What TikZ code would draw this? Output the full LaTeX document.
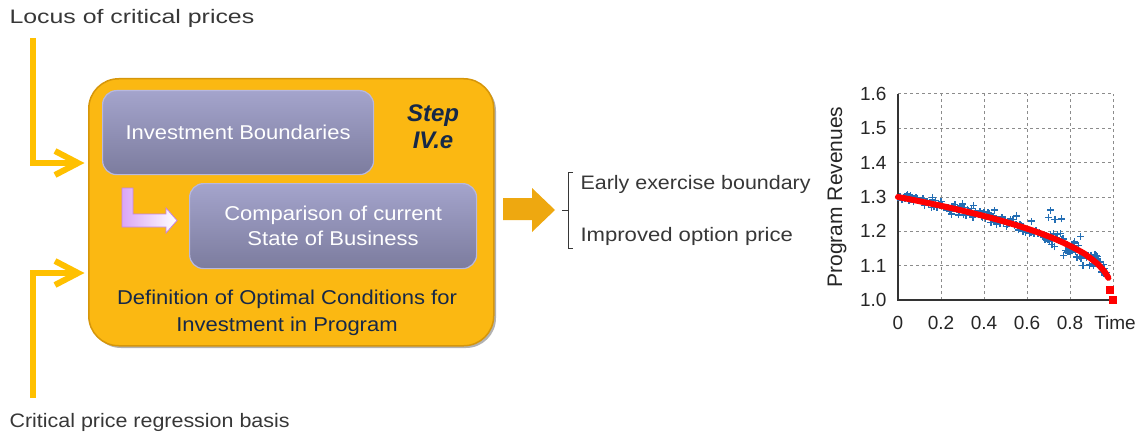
\documentclass[tikz,border=0pt]{standalone}
\usepackage{fontspec}
\setmainfont[FakeStretch=1.1]{Liberation Sans}
\newfontfamily\plainsans{Liberation Sans}
\usetikzlibrary{calc}
\definecolor{ylw}{RGB}{255,192,0}
\definecolor{orng}{RGB}{251,184,18}
\definecolor{orngd}{RGB}{214,150,10}
\definecolor{barrow}{RGB}{238,168,16}
\definecolor{lavt}{RGB}{164,164,204}
\definecolor{lavb}{RGB}{124,124,158}
\definecolor{lavedge}{RGB}{184,184,222}
\definecolor{navy}{RGB}{22,40,72}
\definecolor{txtg}{RGB}{55,55,55}
\definecolor{pinkL}{RGB}{218,166,246}
\definecolor{pinkE}{RGB}{196,130,228}
\definecolor{ptblue}{RGB}{35,110,180}
\definecolor{gridg}{RGB}{140,140,140}
\tikzset{
  feed/.style={draw=ylw,line width=6pt,line join=miter},
  inbox/.style={rounded corners=14pt,top color=lavt,bottom color=lavb,draw=lavedge,line width=1.2pt},
  intext/.style={text=white,font=\fontsize{20}{25}\selectfont,align=center},
  lbl/.style={text=txtg,font=\fontsize{19.5}{24}\selectfont},
  ticklbl/.style={text=black!85,font=\plainsans\fontsize{19}{22}\selectfont},
}
\newcommand{\bplus}[2]{%
  \draw[ptblue,line width=1.4pt] ([xshift=-3.5pt]#1,#2) -- ([xshift=3.5pt]#1,#2);
  \draw[ptblue,line width=1.4pt] ([yshift=-3.5pt]#1,#2) -- ([yshift=3.5pt]#1,#2);}
\begin{document}
\begin{tikzpicture}[x=1pt,y=-1pt]
\useasboundingbox (0,0) rectangle (1141,436);
% labels
\node[lbl,anchor=west] (locus) at (6,18) {\scalebox{1.16}[1]{Locus of critical prices}};
\node[lbl,anchor=west] (basis) at (6,422) {Critical price regression basis};
% main box
\fill[gray!60,rounded corners=30pt] (91,81) rectangle (496,348);
\node[draw=orngd,line width=1.5pt,fill=orng,rounded corners=30pt,minimum width=405pt,minimum height=267pt,anchor=north west] (main) at (88,78) {};
\node[inbox,minimum width=271pt,minimum height=84pt,anchor=north west] (ib) at (102,90) {};
\node[intext] at (ib.center) {Investment Boundaries};
\node[inbox,minimum width=287pt,minimum height=85pt,anchor=north west] (cmp) at (189,183) {};
\node[intext] at (cmp.center) {Comparison of current\\State of Business};
\node[text=navy,font=\plainsans\fontsize{24}{27}\selectfont\bfseries\itshape,align=center] (step) at (433,127) {Step\\IV.e};
\node[text=navy,font=\fontsize{20}{27}\selectfont,align=center] (def) at (287,313) {Definition of Optimal Conditions for\\Investment in Program};
% pink L arrow
\path[left color=pinkL,right color=white,draw=pinkE,line width=0.8pt]
 (122,188) -- (133,188) -- (133,214) -- (166,214) -- (166,208) -- (177,220.5) -- (166,233) -- (166,227) -- (122,227) -- cycle;
% feed arrows
\coordinate (t1) at (33,38);
\coordinate (h1) at (78,163);
\draw[feed] (t1) |- (h1);
\draw[feed] (55,151) -- (h1) -- (55,175);
\coordinate (t2) at (33,398);
\coordinate (h2) at (78,273);
\draw[feed] (t2) |- (h2);
\draw[feed] (55,261) -- (h2) -- (55,285);
% big block arrow
\fill[barrow] (503,198) -- (532,198) -- (532,188) -- (555,210) -- (532,232) -- (532,220) -- (503,220) -- cycle;
% brace
\draw[txtg,line width=1pt] (573,172) -- (568,172) -- (568,248) -- (573,248);
\draw[txtg,line width=1pt] (568,210) -- (562,210);
\node[lbl,anchor=west] (e1) at (577,184) {Early exercise boundary};
\node[lbl,anchor=west] (e2) at (577,236) {\scalebox{1.03}[1]{Improved option price}};
% chart
\begin{scope}[shift={(898,300)},x=215pt,y=343.333pt]
  \foreach \gx in {0.2,0.4,0.6,0.8,1.0} \draw[gridg,dashed,line width=1pt] (\gx,0) -- (\gx,0.6);
  \foreach \gy in {0.1,0.2,0.3,0.4,0.5,0.6} \draw[gridg,dashed,line width=1pt] (0,\gy) -- (1.0,\gy);
  \draw[black!80,line width=1.5pt] (0,0.6) -- (0,0) -- (1.0,0);
  \foreach \v/\l in {0/1.0,0.1/1.1,0.2/1.2,0.3/1.3,0.4/1.4,0.5/1.5,0.6/1.6}
     \node[ticklbl,anchor=east] at ([xshift=-8pt]0,\v) {\l};
  \foreach \v/\l in {0/0,0.2/0.2,0.4/0.4,0.6/0.6,0.8/0.8}
     \node[ticklbl] at ([yshift=-23pt]\v,0) {\l};
  \node[ticklbl] at ([yshift=-23pt,xshift=2pt]1.0,0) {Time};
  \node[ticklbl,rotate=90,font=\plainsans\fontsize{21}{22}\selectfont] at ([xshift=-61pt]0,0.3) {Program Revenues};
  % blue crosses
  \pgfmathsetseed{7}
  \foreach \i in {0,...,150} {
    \pgfmathsetmacro\tx{\i/155}
    \pgfmathsetmacro\amp{(\tx>0.7) ? 0.024 : 0.014}
    \pgfmathsetmacro\ty{0.3*(1-\tx)^0.4 + \amp*rand}
    \bplus{\tx}{\ty}
  }
  \foreach \tx/\ty in {0.71/0.262,0.70/0.24,0.73/0.235,0.76/0.236,0.85/0.185,0.82/0.17,0.86/0.10,0.79/0.14,0.77/0.13,0.16/0.298,0.3/0.28,0.35/0.275,0.45/0.262,0.55/0.245,0.62/0.23,0.9/0.13,0.93/0.12,0.97/0.07,0.25/0.25,0.28/0.248} {
    \bplus{\tx}{\ty}
  }
  % red curve
  \draw[red,line width=6pt,line cap=round] plot[domain=0:0.98,samples=120] (\x,{0.3*(1-\x)^0.4});
  \fill[red] ([xshift=-4pt,yshift=-4pt]0.985,0.03) rectangle ([xshift=4pt,yshift=4pt]0.985,0.03);
  \fill[red] ([xshift=-4pt,yshift=-4pt]1.0,0.0) rectangle ([xshift=4pt,yshift=4pt]1.0,0.0);
\end{scope}
\end{tikzpicture}
\end{document}
